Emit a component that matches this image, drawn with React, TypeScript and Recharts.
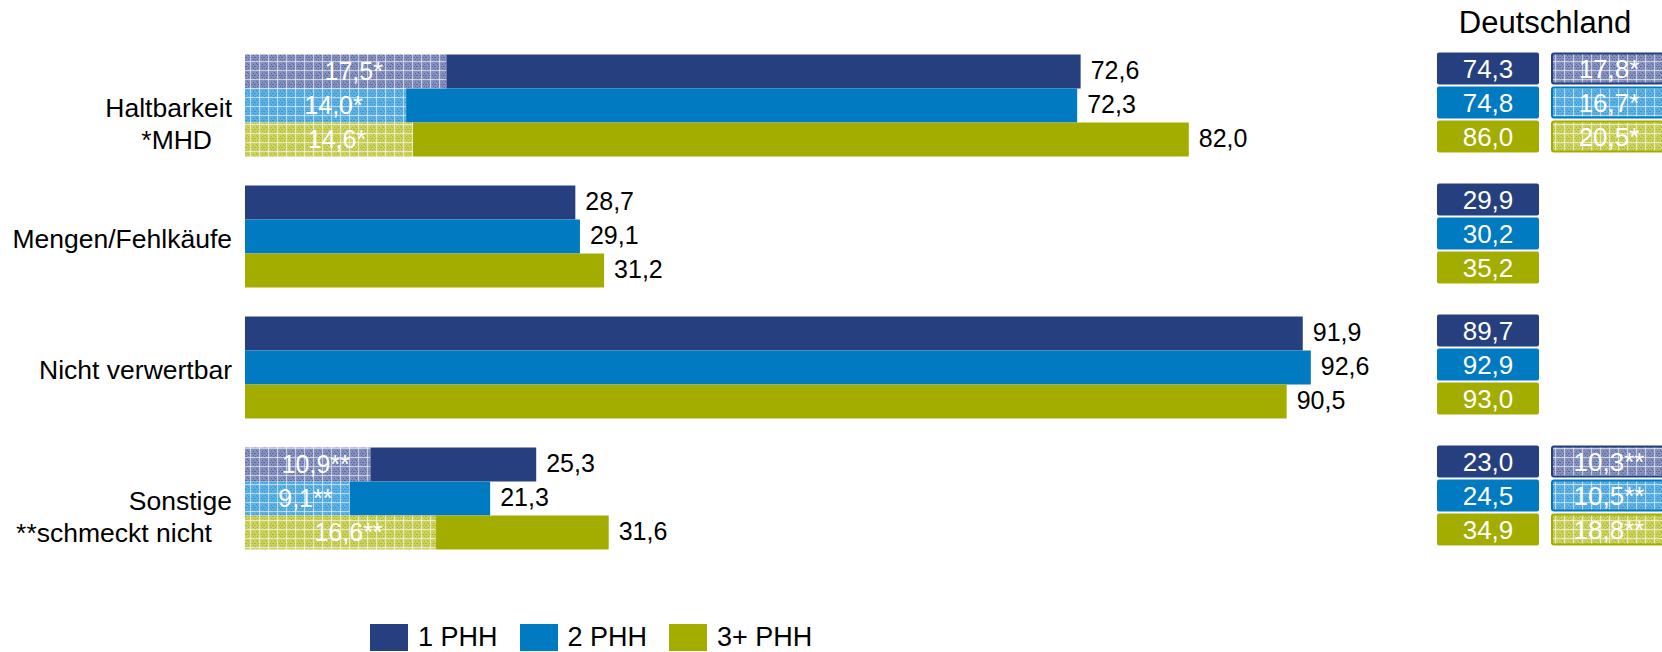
import React from 'react';
import { BarChart, Bar, XAxis, YAxis, LabelList } from 'recharts';

const categories = ['Haltbarkeit', 'Mengen/Fehlkäufe', 'Nicht verwertbar', 'Sonstige'];
const categoryNotes = ['*MHD', '', '', '**schmeckt nicht'];
const subMarks = ['*', '', '', '**'];

const seriesNames = ['1 PHH', '2 PHH', '3+ PHH'];

// Anteile je Haushaltsgröße
const phh1 = [72.6, 28.7, 91.9, 25.3];
const phh2 = [72.3, 29.1, 92.6, 21.3];
const phh3 = [82.0, 31.2, 90.5, 31.6];

// Teilmengen (MHD / schmeckt nicht)
const sub1 = [17.5, null, null, 10.9];
const sub2 = [14.0, null, null, 9.1];
const sub3 = [14.6, null, null, 16.6];

// Deutschland-Vergleich
const de1 = [74.3, 29.9, 89.7, 23.0];
const de2 = [74.8, 30.2, 92.9, 24.5];
const de3 = [86.0, 35.2, 93.0, 34.9];
const deSub1 = [17.8, null, null, 10.3];
const deSub2 = [16.7, null, null, 10.5];
const deSub3 = [20.5, null, null, 18.8];

const COLORS = ['#26407f', '#007bc2', '#a3ad00'];
const PATTERN = [
  { base: '#8791bd', dot: '#5a679e' },
  { base: '#5fb1e3', dot: '#3595d3' },
  { base: '#cbd263', dot: '#adb827' },
];
const FONT = '"Liberation Sans", Arial, Helvetica, sans-serif';

const totals = [phh1, phh2, phh3];
const subs = [sub1, sub2, sub3];
const deTotals = [de1, de2, de3];
const deSubs = [deSub1, deSub2, deSub3];

const chartData = categories.map((name, i) => {
  const row: Record<string, number | string> = { name, i };
  totals.forEach((t, s) => {
    const part = subs[s][i] ?? 0;
    row[`s${s}`] = part;
    row[`r${s}`] = t[i] - part;
  });
  return row;
});

const fmt = (v: number) => v.toFixed(1).replace('.', ',');

const getBox = (props: any) => {
  const vb = props.viewBox || props;
  return { x: Number(vb.x), y: Number(vb.y), width: Number(vb.width), height: Number(vb.height) };
};

const CategoryTick = (props: any) => {
  const { y, index } = props;
  const note = categoryNotes[index];
  return (
    <g>
      <text x={232} y={y + 2} textAnchor="end" dominantBaseline="central" fontSize={26.5} fill="#000" fontFamily={FONT}>
        {categories[index]}
      </text>
      {note && (
        <text x={212} y={y + 34} textAnchor="end" dominantBaseline="central" fontSize={26.5} fill="#000" fontFamily={FONT}>
          {note}
        </text>
      )}
    </g>
  );
};

const makeSubLabel = (s: number) => (props: any) => {
  const i = Number(props.value);
  const v = subs[s][i];
  if (v == null) return null;
  const b = getBox(props);
  return (
    <text x={b.x + b.width / 2 + 8} y={b.y + b.height / 2 - 1} textAnchor="middle" dominantBaseline="central"
      fontSize={25} fill="#fff" fontFamily={FONT}>
      {fmt(v) + subMarks[i]}
    </text>
  );
};

const makeTotalLabel = (s: number) => (props: any) => {
  const i = Number(props.value);
  const b = getBox(props);
  const cy = b.y + b.height / 2;
  const by = b.y - 2;
  const bh = b.height - 2;
  const deSub = deSubs[s][i];
  return (
    <g>
      <text x={b.x + b.width + 10} y={cy - 2} dominantBaseline="central" fontSize={25} fill="#000" fontFamily={FONT}>
        {fmt(totals[s][i])}
      </text>
      <rect x={1437} y={by} width={102} height={bh} rx={2} fill={COLORS[s]} />
      <text x={1488} y={by + bh / 2} textAnchor="middle" dominantBaseline="central" fontSize={26} fill="#fff" fontFamily={FONT}>
        {fmt(deTotals[s][i])}
      </text>
      {deSub != null && (
        <g>
          <rect x={1552} y={by + 1} width={116} height={bh - 2} rx={2} fill={`url(#pat${s})`} stroke={COLORS[s]} strokeWidth={2} />
          <text x={1609} y={by + bh / 2} textAnchor="middle" dominantBaseline="central" fontSize={26} fill="#fff" fontFamily={FONT}>
            {fmt(deSub) + subMarks[i]}
          </text>
        </g>
      )}
    </g>
  );
};

const Pattern = ({ id, base, dot }: { id: string; base: string; dot: string }) => (
  <pattern id={id} width={9} height={9} patternUnits="userSpaceOnUse">
    <rect width={9} height={9} fill={base} />
    <rect x={1} y={1} width={1} height={1} fill={dot} />
    <rect x={3} y={3} width={1} height={1} fill={dot} />
    <rect x={5} y={1} width={1} height={1} fill={dot} />
    <rect x={1} y={5} width={1} height={1} fill={dot} />
    <rect x={5} y={5} width={1} height={1} fill={dot} />
    <rect x={3} y={6} width={1} height={1} fill={dot} />
    <rect x={6} y={3} width={1} height={1} fill={dot} />
    <rect x={2} y={3} width={1} height={1} fill={dot} />
    <rect x={4} y={0} width={1} height={1} fill={dot} />
    <rect x={0} y={3} width={1} height={1} fill={dot} />
    <rect x={0} y={7} width={9} height={1} fill="#fff" opacity={0.55} />
    <rect x={7} y={0} width={1} height={9} fill="#fff" opacity={0.55} />
  </pattern>
);

const App: React.FC = () => {
  return (
    <div style={{ position: 'absolute', left: 0, top: 0, width: 1662, height: 652, background: '#fff', fontFamily: FONT, overflow: 'hidden' }}>
      <div style={{ position: 'absolute', left: 1445, top: 5, width: 200, textAlign: 'center', fontSize: 31, color: '#000' }}>
        Deutschland
      </div>
      <BarChart
        width={1662}
        height={652}
        data={chartData}
        layout="vertical"
        margin={{ top: 40, right: 266, bottom: 88, left: 0 }}
        barCategoryGap={14.5}
        barGap={0}
      >
        <defs>
          {PATTERN.map((p, s) => (
            <Pattern key={s} id={`pat${s}`} base={p.base} dot={p.dot} />
          ))}
        </defs>
        <XAxis type="number" domain={[0, 100]} hide />
        <YAxis type="category" dataKey="name" width={245} axisLine={false} tickLine={false} tick={<CategoryTick />} interval={0} />
        {[0, 1, 2].map((s) => [
          <Bar key={`s${s}`} dataKey={`s${s}`} stackId={`g${s}`} fill={`url(#pat${s})`} isAnimationActive={false}>
            <LabelList dataKey="i" content={makeSubLabel(s)} />
          </Bar>,
          <Bar key={`r${s}`} dataKey={`r${s}`} stackId={`g${s}`} fill={COLORS[s]} isAnimationActive={false}>
            <LabelList dataKey="i" content={makeTotalLabel(s)} />
          </Bar>,
        ])}
      </BarChart>
      <div style={{ position: 'absolute', left: 370, top: 624, display: 'flex', alignItems: 'center', fontSize: 27, color: '#000' }}>
        {seriesNames.map((n, s) => (
          <div key={n} style={{ display: 'flex', alignItems: 'center', marginRight: 22 }}>
            <div style={{ width: 38, height: 27, background: COLORS[s], marginRight: 10 }} />
            <span style={{ lineHeight: '27px' }}>{n}</span>
          </div>
        ))}
      </div>
    </div>
  );
};

export default App;
